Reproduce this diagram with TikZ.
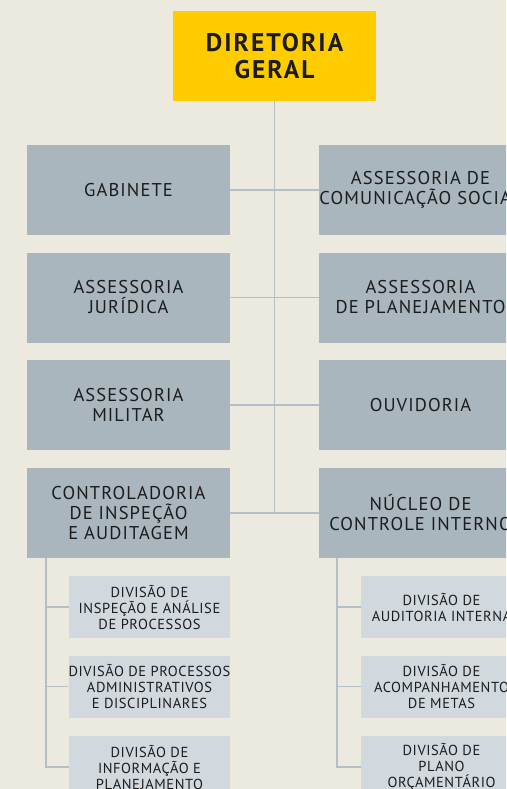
\documentclass[tikz,border=0pt]{standalone}
\usepackage{fontspec}
\setmainfont{PT Sans}
\newfontfamily\fontetopo[LetterSpace=8]{PT Sans}
\newfontfamily\fonteorgao[LetterSpace=6]{PT Sans}
\newfontfamily\fontediv[LetterSpace=4]{PT Sans}
\definecolor{fundo}{HTML}{ECE9DE}
\definecolor{amarelo}{HTML}{FFCC00}
\definecolor{cinza}{HTML}{A9B6BE}
\definecolor{claro}{HTML}{D1D9DF}
\definecolor{linha}{HTML}{B3BEC5}
\definecolor{texto}{HTML}{1C1C1C}
\begin{document}
\begin{tikzpicture}[x=1pt,y=-1pt,
    topo/.style={fill=amarelo, text=texto, minimum width=203pt, minimum height=90pt,
        align=center, inner sep=0pt, font=\fontetopo\bfseries\fontsize{25.5}{27}\selectfont},
    orgao/.style={fill=cinza, text=texto, minimum width=203pt, minimum height=90pt,
        align=center, inner sep=0pt, font=\fonteorgao\fontsize{18.5}{20}\selectfont},
    divisao/.style={fill=claro, text=texto, minimum width=161pt, minimum height=62pt,
        align=center, inner sep=0pt, font=\fontediv\fontsize{14.5}{16}\selectfont},
    liga/.style={draw=linha, line width=1.5pt}]
        \fill[fundo] (0,0) rectangle (506,789);
        \useasboundingbox (0,0) rectangle (506,789);
        \clip (0,0) rectangle (506,789);
        % conectores
        \coordinate (fim) at (274.5,513);
        \coordinate (ce) at (46,558);
        \coordinate (cd) at (337,558);
        % caixas
        \node[topo] (dg) at (274.5,56) {DIRETORIA\\GERAL};
        \node[orgao] (gab) at (128.5,190) {GABINETE};
        \node[orgao] (acs) at (420.5,190) {ASSESSORIA DE\\COMUNICAÇÃO SOCIAL};
        \node[orgao] (aj) at (128.5,297.5) {ASSESSORIA\\JURÍDICA};
        \node[orgao] (ap) at (420.5,297.5) {ASSESSORIA\\DE PLANEJAMENTO};
        \node[orgao] (am) at (128.5,405) {ASSESSORIA\\MILITAR};
        \node[orgao] (ouv) at (420.5,405) {OUVIDORIA};
        \node[orgao] (cia) at (128.5,513) {CONTROLADORIA\\DE INSPEÇÃO\\E AUDITAGEM};
        \node[orgao] (nci) at (420.5,513) {NÚCLEO DE\\CONTROLE INTERNO};
        \node[divisao] (dia) at (149.5,607) {DIVISÃO DE\\INSPEÇÃO E ANÁLISE\\DE PROCESSOS};
        \node[divisao] (dpa) at (149.5,686.5) {DIVISÃO DE PROCESSOS\\ADMINISTRATIVOS\\E DISCIPLINARES};
        \node[divisao] (dip) at (149.5,767) {DIVISÃO DE\\INFORMAÇÃO E\\PLANEJAMENTO};
        \node[divisao] (dai) at (441.5,607) {DIVISÃO DE\\AUDITORIA INTERNA};
        \node[divisao] (dam) at (441.5,686.5) {DIVISÃO DE\\ACOMPANHAMENTO\\DE METAS};
        \node[divisao] (dpo) at (441.5,767) {DIVISÃO DE\\PLANO\\ORÇAMENTÁRIO};
        % linhas
        \draw[liga] (dg.south) -- (fim);
        \draw[liga] (gab.east) -- (acs.west);
        \draw[liga] (aj.east) -- (ap.west);
        \draw[liga] (am.east) -- (ouv.west);
        \draw[liga] (cia.east) -- (nci.west);
        \draw[liga] (ce) |- (dia.west);
        \draw[liga] (ce) |- (dpa.west);
        \draw[liga] (ce) |- (dip.west);
        \draw[liga] (cd) |- (dai.west);
        \draw[liga] (cd) |- (dam.west);
        \draw[liga] (cd) |- (dpo.west);
\end{tikzpicture}
\end{document}
